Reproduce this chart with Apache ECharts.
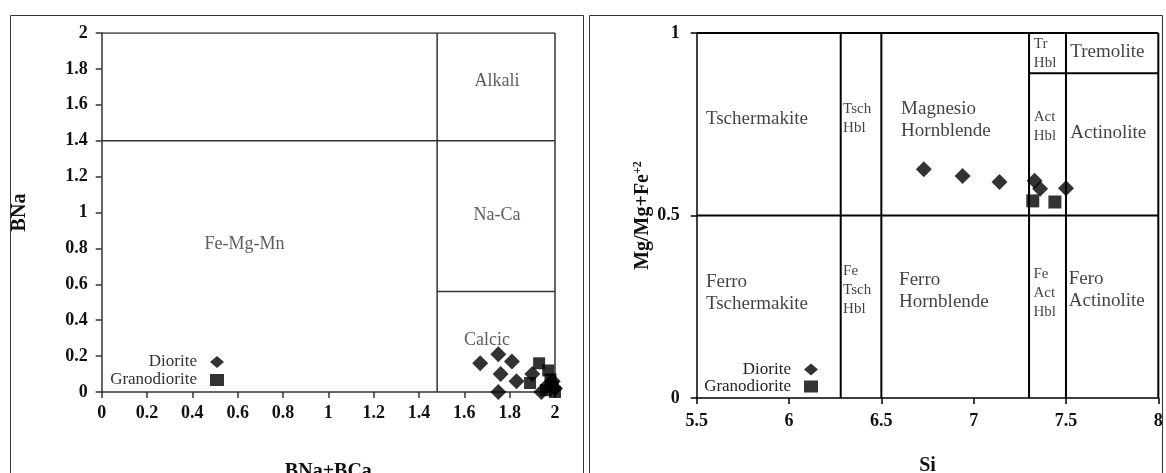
<!DOCTYPE html>
<html><head><meta charset="utf-8">
<script src="https://cdn.jsdelivr.net/npm/echarts@6/dist/echarts.min.js"></script>
<style>html,body{margin:0;padding:0;background:#fff}#c{width:1166px;height:473px}</style>
</head><body><div id="c"></div>
<script>
// ---- Left diagram: BNa vs BNa+BCa ----
const leftDiorite = [[1.67,0.16],[1.75,0.21],[1.81,0.17],[1.76,0.10],[1.83,0.06],[1.75,0.00],[1.90,0.10],[1.94,0.00],[1.97,0.04],[1.99,0.06],[2.0,0.02]];
const leftGranodiorite = [[1.93,0.16],[1.97,0.12],[1.89,0.05],[1.98,0.07],[1.99,0.03],[2.0,0.0],[1.96,0.01]];
const leftBoundaries = [[[1.48,0],[1.48,2]],[[0,1.4],[2,1.4]],[[1.48,0.56],[2,0.56]],[[0,2],[2,2]],[[2,0],[2,2]]];
const leftRegionLabels = [[1.744,1.73,'Alkali'],[1.744,0.985,'Na-Ca'],[0.63,0.825,'Fe-Mg-Mn'],[1.70,0.29,'Calcic']];
// ---- Right diagram: Mg/(Mg+Fe2+) vs Si ----
const rightDiorite = [[6.73,0.627],[6.94,0.608],[7.14,0.592],[7.33,0.595],[7.36,0.573],[7.50,0.575]];
const rightGranodiorite = [[7.32,0.54],[7.44,0.537]];
const rightBoundaries = [[[6.28,0],[6.28,1]],[[6.5,0],[6.5,1]],[[7.3,0],[7.3,1]],[[7.5,0],[7.5,1]],[[5.5,0.5],[8,0.5]],[[7.3,0.89],[8,0.89]],[[5.5,1],[8,1]],[[8,0],[8,1]]];
const rightBigLabels = [[5.55,0.765,'Tschermakite'],[6.607,0.762,'Magnesio\nHornblende'],[7.523,0.947,'Tremolite'],[7.523,0.727,'Actinolite'],[5.55,0.288,'Ferro\nTschermakite'],[6.596,0.294,'Ferro\nHornblende'],[7.515,0.296,'Fero\nActinolite']];
const rightSmallLabels = [[6.293,0.765,'Tsch\nHbl'],[7.326,0.945,'Tr\nHbl'],[7.325,0.743,'Act\nHbl'],[6.293,0.295,'Fe\nTsch\nHbl'],[7.324,0.288,'Fe\nAct\nHbl']];
const leftXTicks = {min:0,max:2,interval:0.2};
const leftYTicks = {min:0,max:2,interval:0.2};
const rightXTicks = {min:5.5,max:8,interval:0.5};
const rightYTicks = {min:0,max:1,interval:0.5};

const FF = '"Liberation Serif","Times New Roman",serif';
const chart = echarts.init(document.getElementById('c'));

function boundarySeries(segs, idx, color, width){
  return segs.map(s => ({type:'line', xAxisIndex:idx, yAxisIndex:idx, data:s, symbol:'none', silent:true,
    lineStyle:{color:color, width:width}, z:1, animation:false}));
}
function labelSeries(arr, idx, size, lh, color){
  return {type:'scatter', xAxisIndex:idx, yAxisIndex:idx, symbolSize:0, silent:true, z:3, animation:false,
    data: arr.map(a=>({value:[a[0],a[1]], name:a[2]})),
    label:{show:true, position: 'right', distance:0, formatter: p=>p.name, fontFamily:FF, fontSize:size,
      lineHeight:lh, color:color, align:'left', verticalAlign:'middle'}};
}
function axisCommon(color, xm, ym){
  return {
    axisLine:{show:true, onZero:false, lineStyle:{color:color,width:1.5}},
    axisTick:{show:true, inside:false, length:6, lineStyle:{color:color,width:1.5}},
    splitLine:{show:false},
    axisLabel:{fontFamily:FF, fontWeight:'bold', fontSize:18, color:'#111', margin:xm},
    nameTextStyle:{fontFamily:FF, fontWeight:'bold', fontSize:20, color:'#111'}
  };
}
const lc = '#333', rc = '#000';
const option = {
  animation:false,
  backgroundColor:'#fff',
  graphic:[
    {type:'rect', shape:{x:10.5,y:15.5,width:573,height:480}, style:{fill:'none', stroke:'#333', lineWidth:1}, silent:true},
    {type:'rect', shape:{x:589.5,y:15.5,width:573,height:480}, style:{fill:'none', stroke:'#333', lineWidth:1}, silent:true}
  ],
  grid:[
    {left:101.7, right:611, top:33, bottom:81, containLabel:false, outerBoundsMode:'none'},
    {left:696.7, right:7.7, top:33, bottom:75, containLabel:false, outerBoundsMode:'none'}
  ],
  legend:[
    {orient:'vertical', align:'right', right:942, top:353, padding:0, itemGap:0, itemWidth:14, itemHeight:12,
     textStyle:{fontFamily:FF, fontSize:17, color:'#333', lineHeight:18, padding:[0,8,0,0]},
     data:[{name:'Diorite', icon:'diamond'},{name:'Granodiorite', icon:'rect'}], selectedMode:false},
    {orient:'vertical', align:'right', right:348, top:361, padding:0, itemGap:0, itemWidth:14, itemHeight:12,
     textStyle:{fontFamily:FF, fontSize:17, color:'#222', lineHeight:17, padding:[0,8,0,0]},
     data:[{name:'Diorite', icon:'diamond'},{name:'Granodiorite', icon:'rect'}], selectedMode:false}
  ],
  xAxis:[
    Object.assign(axisCommon(lc, 12), {type:'value', gridIndex:0, min:leftXTicks.min, max:leftXTicks.max, interval:leftXTicks.interval,
      name:'BNa+BCa', nameLocation:'middle', nameGap:70}),
    Object.assign(axisCommon(rc, 14), {type:'value', gridIndex:1, min:rightXTicks.min, max:rightXTicks.max, interval:rightXTicks.interval,
      name:'Si', nameLocation:'middle', nameGap:58})
  ],
  yAxis:[
    Object.assign(axisCommon(lc, 14), {type:'value', gridIndex:0, min:leftYTicks.min, max:leftYTicks.max, interval:leftYTicks.interval,
      name:'BNa', nameLocation:'middle', nameGap:72}),
    Object.assign(axisCommon(rc, 17), {type:'value', gridIndex:1, min:rightYTicks.min, max:rightYTicks.max, interval:rightYTicks.interval,
      name:'Mg/Mg+Fe{sup|+2}', nameLocation:'middle', nameGap:41,
      nameTextStyle:{fontFamily:FF, fontWeight:'bold', fontSize:20, color:'#111',
        rich:{sup:{fontFamily:FF, fontWeight:'bold', fontSize:12, color:'#111', verticalAlign:'top', padding:[0,0,10,0]}}}})
  ],
  series:[].concat(
    boundarySeries(leftBoundaries, 0, lc, 1.5),
    boundarySeries(rightBoundaries, 1, rc, 2),
    [
      labelSeries(leftRegionLabels, 0, 18, 22, '#333'),
      labelSeries(rightBigLabels, 1, 19, 22, '#111'),
      labelSeries(rightSmallLabels, 1, 15, 19, '#111'),
      {name:'Diorite', type:'scatter', xAxisIndex:0, yAxisIndex:0, symbol:'diamond', symbolSize:16, data:leftDiorite, itemStyle:{color:'#000'}, z:5, clip:false},
      {name:'Granodiorite', type:'scatter', xAxisIndex:0, yAxisIndex:0, symbol:'rect', symbolSize:12, data:leftGranodiorite, itemStyle:{color:'#000'}, z:5, clip:false},
      {name:'Diorite', type:'scatter', xAxisIndex:1, yAxisIndex:1, symbol:'diamond', symbolSize:16, data:rightDiorite, itemStyle:{color:'#000'}, z:5},
      {name:'Granodiorite', type:'scatter', xAxisIndex:1, yAxisIndex:1, symbol:'rect', symbolSize:13, data:rightGranodiorite, itemStyle:{color:'#000'}, z:5}
    ])
};
// left-chart labels are centered
option.series.forEach(s=>{ if(s.type==='scatter' && s.symbolSize===0 && s.xAxisIndex===0){ s.label.position='inside'; s.label.align='center'; }});
chart.setOption(option);
</script></body></html>
